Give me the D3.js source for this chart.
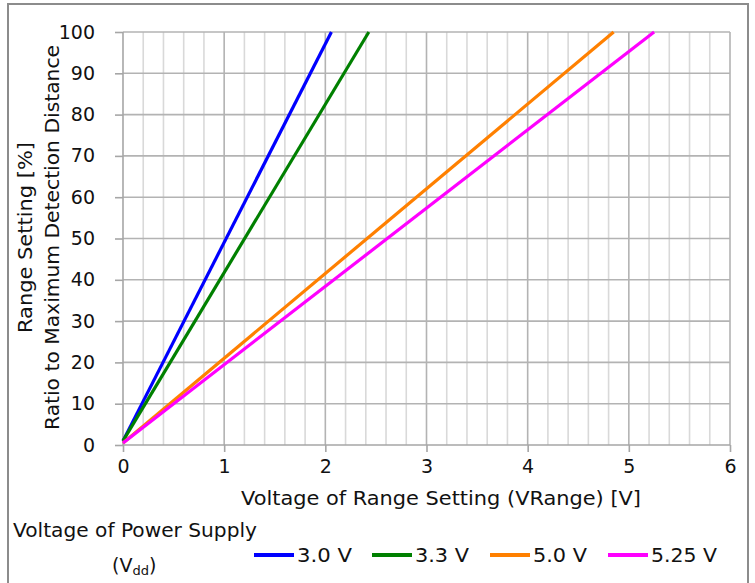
<!DOCTYPE html>
<html>
<head>
<meta charset="utf-8">
<script src="https://cdn.jsdelivr.net/npm/d3@7/dist/d3.min.js"></script>
<style>
  html, body { margin: 0; padding: 0; background: #fff; }
  svg { display: block; }
  text { font-family: "DejaVu Sans", Verdana, sans-serif; fill: #111; }
</style>
</head>
<body>
<svg id="chart" width="755" height="583"></svg>
<script>
// ---- data ----
const seriesNames = ["3.0 V", "3.3 V", "5.0 V", "5.25 V"];
const seriesColors = ["#0000ff", "#008000", "#ff8000", "#ff00ff"];
const series30 = [[0, 1], [2.06, 100]];
const series33 = [[0, 1], [2.43, 100]];
const series50 = [[0, 0.5], [4.85, 100]];
const series525 = [[0, 0.5], [5.25, 100]];
const xTicks = [0, 1, 2, 3, 4, 5, 6];
const xMinorTicks = [0.2, 0.4, 0.6, 0.8, 1.2, 1.4, 1.6, 1.8, 2.2, 2.4, 2.6, 2.8, 3.2, 3.4, 3.6, 3.8, 4.2, 4.4, 4.6, 4.8, 5.2, 5.4, 5.6, 5.8];
const yTicks = [0, 10, 20, 30, 40, 50, 60, 70, 80, 90, 100];
const xTitle = "Voltage of Range Setting (VRange) [V]";
const yTitle1 = "Range Setting [%]";
const yTitle2 = "Ratio to Maximum Detection Distance";
const legendTitle = "Voltage of Power Supply";

const allSeries = [series30, series33, series50, series525];

const svg = d3.select("#chart");
const pL = 123, pR = 730, pT = 32, pB = 445;

// outer frame
svg.append("rect").attr("x", 8).attr("y", 4).attr("width", 740).attr("height", 600)
  .attr("fill", "none").attr("stroke", "#8c8c8c").attr("stroke-width", 2);

const x = d3.scaleLinear().domain([0, 6]).range([pL, pR]);
const y = d3.scaleLinear().domain([0, 100]).range([pB, pT]);

// minor vertical grid
svg.append("g").selectAll("line").data(xMinorTicks)
  .join("line")
  .attr("x1", d => x(d)).attr("x2", d => x(d)).attr("y1", pT).attr("y2", pB)
  .attr("stroke", "#d9d9d9").attr("stroke-width", 1.6);

// major vertical grid
svg.append("g").selectAll("line").data(xTicks.slice(1))
  .join("line")
  .attr("x1", d => x(d)).attr("x2", d => x(d)).attr("y1", pT).attr("y2", pB)
  .attr("stroke", "#b3b3b3").attr("stroke-width", 1.6);

// horizontal grid
svg.append("g").selectAll("line").data(yTicks.slice(1))
  .join("line")
  .attr("x1", pL).attr("x2", pR).attr("y1", d => y(d)).attr("y2", d => y(d))
  .attr("stroke", "#b3b3b3").attr("stroke-width", 1.6);

// axes
const xAxis = d3.axisBottom(x).tickValues(xTicks).tickSize(7).tickPadding(8).tickFormat(d3.format("d"));
const gx = svg.append("g").attr("transform", `translate(0,${pB})`).call(xAxis);
gx.select(".domain").attr("stroke", "#a6a6a6").attr("stroke-width", 1.6).attr("d", `M${pL},0H${pR}`);
gx.selectAll(".tick line").attr("stroke", "#a6a6a6").attr("stroke-width", 1.6);
gx.selectAll(".tick text").attr("font-size", 19).attr("font-family", "DejaVu Sans").attr("fill", "#111");

const yAxis = d3.axisLeft(y).tickValues(yTicks).tickSize(8).tickPadding(20).tickFormat(d3.format("d"));
const gy = svg.append("g").attr("transform", `translate(${pL},0)`).call(yAxis);
gy.select(".domain").attr("stroke", "#a6a6a6").attr("stroke-width", 1.6).attr("d", `M0,${pT}V${pB}`);
gy.selectAll(".tick line").attr("stroke", "#a6a6a6").attr("stroke-width", 1.6);
gy.selectAll(".tick text").attr("font-size", 19).attr("font-family", "DejaVu Sans").attr("fill", "#111");

// data lines
const line = d3.line().x(d => x(d[0])).y(d => y(d[1]));
svg.append("g").selectAll("path").data(allSeries).join("path")
  .attr("d", line).attr("fill", "none")
  .attr("stroke", (d, i) => seriesColors[i]).attr("stroke-width", 3.2);

// titles
function fitText(sel, width) {
  sel.attr("textLength", width).attr("lengthAdjust", "spacingAndGlyphs");
}
svg.append("text").attr("x", 441).attr("y", 498).attr("text-anchor", "middle")
  .attr("dominant-baseline", "central").attr("font-size", 19).text(xTitle).call(fitText, 400);

svg.append("text").attr("transform", "translate(25,237.5) rotate(-90)").attr("text-anchor", "middle")
  .attr("dominant-baseline", "central").attr("font-size", 19).text(yTitle1).call(fitText, 191);
svg.append("text").attr("transform", "translate(52,237.5) rotate(-90)").attr("text-anchor", "middle")
  .attr("dominant-baseline", "central").attr("font-size", 19).text(yTitle2).call(fitText, 385);

// legend
svg.append("text").attr("x", 13).attr("y", 530).attr("dominant-baseline", "central")
  .attr("font-size", 19).text(legendTitle).call(fitText, 244);
const vdd = svg.append("text").attr("x", 112).attr("y", 565).attr("dominant-baseline", "central")
  .attr("font-size", 19);
vdd.append("tspan").text("(V");
vdd.append("tspan").attr("font-size", 13).attr("dy", 5).text("dd");
vdd.append("tspan").attr("dy", -5).text(")");

const legendX = [254, 372, 490, 608];
const legendTextW = [55, 54, 54, 66];
const leg = svg.append("g").selectAll("g").data(seriesNames).join("g")
  .attr("transform", (d, i) => `translate(${legendX[i]},555)`);
leg.append("line").attr("x1", 0).attr("x2", 40).attr("y1", 0).attr("y2", 0)
  .attr("stroke", (d, i) => seriesColors[i]).attr("stroke-width", 4);
leg.append("text").attr("x", 43).attr("y", 0).attr("dominant-baseline", "central")
  .attr("font-size", 19.5).text(d => d)
  .attr("textLength", (d, i) => legendTextW[i]).attr("lengthAdjust", "spacingAndGlyphs");
</script>
</body>
</html>
